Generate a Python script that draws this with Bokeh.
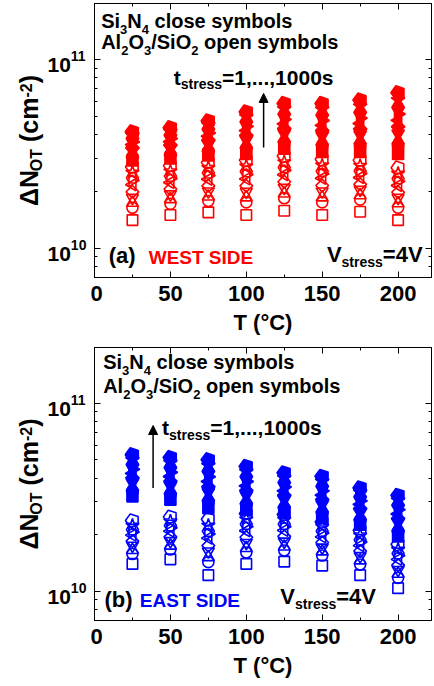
import math
from bokeh.plotting import figure
from bokeh.models import (Label, Arrow, NormalHead, FixedTicker, SingleIntervalTicker,
                          LinearAxis, LogAxis, Range1d, ColumnDataSource)
from bokeh.layouts import column, row
from bokeh.embed import file_html
from bokeh.resources import INLINE

# ---------------- data (values in units of 1e10 cm^-2) ----------------
temperatures = [25, 50, 75, 100, 125, 150, 175, 200]
stress_steps = ["1s", "2s", "5s", "10s", "20s", "50s", "100s", "200s", "500s", "1000s"]

# rows: stress step (ascending), columns: temperature
west_si3n4 = [
    [2.92, 2.99, 3.10, 3.16, 3.37, 3.24, 3.24, 3.16],
    [3.05, 3.13, 3.27, 3.37, 3.61, 3.48, 3.49, 3.46],
    [3.16, 3.24, 3.40, 3.54, 3.81, 3.69, 3.72, 3.72],
    [3.28, 3.38, 3.56, 3.75, 4.05, 3.94, 3.99, 4.05],
    [3.40, 3.52, 3.74, 3.96, 4.30, 4.20, 4.28, 4.40],
    [3.54, 3.67, 3.92, 4.20, 4.56, 4.48, 4.58, 4.76],
    [3.66, 3.81, 4.08, 4.42, 4.82, 4.75, 4.89, 5.14],
    [3.81, 3.97, 4.28, 4.67, 5.13, 5.07, 5.24, 5.57],
    [3.97, 4.15, 4.50, 4.97, 5.47, 5.44, 5.65, 6.10],
    [4.14, 4.35, 4.73, 5.28, 5.85, 5.85, 6.10, 6.67],
]
west_al2o3 = [
    [1.41, 1.50, 1.55, 1.50, 1.58, 1.50, 1.56, 1.41],
    [1.64, 1.72, 1.78, 1.75, 1.84, 1.75, 1.81, 1.64],
    [1.74, 1.82, 1.88, 1.86, 1.95, 1.86, 1.91, 1.73],
    [1.85, 1.93, 2.00, 1.99, 2.09, 2.00, 2.04, 1.85],
    [1.99, 2.06, 2.14, 2.14, 2.25, 2.15, 2.18, 1.98],
    [2.17, 2.23, 2.32, 2.33, 2.45, 2.35, 2.37, 2.15],
    [2.29, 2.34, 2.43, 2.46, 2.59, 2.48, 2.49, 2.26],
    [2.36, 2.41, 2.51, 2.55, 2.68, 2.56, 2.57, 2.34],
    [2.52, 2.56, 2.67, 2.72, 2.86, 2.75, 2.74, 2.49],
    [2.70, 2.74, 2.85, 2.93, 3.08, 2.96, 2.93, 2.67],
]
east_si3n4 = [
    [3.20, 3.07, 2.77, 2.72, 2.61, 2.45, 2.26, 1.96],
    [3.40, 3.27, 2.98, 2.90, 2.77, 2.61, 2.39, 2.08],
    [3.58, 3.44, 3.16, 3.05, 2.91, 2.75, 2.50, 2.19],
    [3.78, 3.64, 3.37, 3.24, 3.07, 2.90, 2.62, 2.32],
    [4.01, 3.85, 3.60, 3.44, 3.24, 3.08, 2.76, 2.44],
    [4.24, 4.08, 3.84, 3.64, 3.42, 3.25, 2.90, 2.58],
    [4.46, 4.30, 4.07, 3.84, 3.59, 3.42, 3.03, 2.72],
    [4.72, 4.55, 4.35, 4.07, 3.79, 3.62, 3.18, 2.87],
    [5.01, 4.84, 4.67, 4.34, 4.02, 3.85, 3.37, 3.05],
    [5.33, 5.15, 5.01, 4.62, 4.27, 4.09, 3.55, 3.24],
]
east_al2o3 = [
    [1.40, 1.48, 1.22, 1.40, 1.44, 1.37, 1.22, 1.04],
    [1.58, 1.67, 1.43, 1.61, 1.65, 1.55, 1.39, 1.18],
    [1.66, 1.75, 1.52, 1.70, 1.73, 1.63, 1.46, 1.24],
    [1.75, 1.85, 1.63, 1.81, 1.84, 1.71, 1.54, 1.30],
    [1.85, 1.95, 1.75, 1.94, 1.96, 1.82, 1.64, 1.38],
    [1.99, 2.09, 1.92, 2.10, 2.11, 1.95, 1.75, 1.48],
    [2.07, 2.18, 2.02, 2.21, 2.21, 2.04, 1.83, 1.55],
    [2.13, 2.24, 2.09, 2.28, 2.28, 2.09, 1.88, 1.59],
    [2.24, 2.36, 2.24, 2.42, 2.41, 2.21, 1.99, 1.67],
    [2.38, 2.49, 2.42, 2.59, 2.56, 2.34, 2.11, 1.78],
]

x_ticks_major = 50
y_major_ticks = [1e10, 1e11]
y_major_labels = [("10", "10"), ("10", "11")]
y_minor_ticks = [8e9, 9e9, 2e10, 3e10, 4e10, 5e10, 6e10, 7e10, 8e10, 9e10]

FONT = "Liberation Sans"
RED = "#FF0000"
BLUE = "#0000FF"
DESC = 0.21  # font descent (em) used to turn "bottom" anchors into baselines

# marker style per stress step: (marker, size, angle)
MARKERS = [
    ("square", 10.5, 0.0),
    ("circle", 11, 0.0),
    ("triangle", 12, 0.0),
    ("inverted_triangle", 12, 0.0),
    ("square", 9, math.pi / 4),
    ("triangle", 12, math.pi / 2),
    ("triangle", 12, -math.pi / 2),
    ("hex", 12, 0.0),
    ("star", 14, 0.0),
    ("pentagon", 7, 0.0),
]

# Arial/Liberation Sans Bold advance widths (per 1000 em)
W = {' ': 278, '(': 333, ')': 333, ',': 278, '-': 333, '.': 278, '/': 278, '=': 584,
     'A': 722, 'C': 722, 'D': 722, 'E': 667, 'I': 278, 'N': 722, 'O': 778, 'S': 667,
     'T': 611, 'V': 667, 'W': 944, 'a': 556, 'b': 611, 'c': 556, 'e': 556, 'i': 278,
     'l': 278, 'm': 889, 'n': 611, 'o': 611, 'p': 611, 'r': 389, 's': 556, 't': 333,
     'y': 556, 'Δ': 668, '°': 400}


def tw(s, size):
    return sum(W.get(ch, 556) for ch in s) * size / 1000.0


def rich(p, x, y, parts, color="black", x0=0.0, y0=0.0, vertical=False):
    off = 0.0
    for text, size, dy in parts:
        stripped = text.lstrip(" ")
        off += tw(text[:len(text) - len(stripped)], size)
        kw = dict(x=x, y=y, text=stripped, text_font=FONT, text_font_style="bold",
                  text_font_size=f"{size}px", text_color=color,
                  text_align="left", text_baseline="bottom")
        if vertical:
            lab = Label(x_offset=x0 - dy + DESC * size, y_offset=y0 + off,
                        angle=90, angle_units="deg", **kw)
        else:
            lab = Label(x_offset=x0 + off, y_offset=y0 + dy - DESC * size, **kw)
        p.add_layout(lab)
        off += tw(stripped, size)
    return off


def style_axis(ax):
    ax.major_tick_in = 6
    ax.major_tick_out = 0
    ax.minor_tick_in = 3
    ax.minor_tick_out = 0
    ax.major_tick_line_color = "black"
    ax.minor_tick_line_color = "black"
    ax.axis_line_color = "black"


def hide_labels(ax):
    ax.major_label_text_color = None
    ax.major_label_text_font_size = "0px"
    ax.major_label_standoff = 0


LEFT_W = 90


def make_panel(height, b_top, b_bottom, si3n4, al2o3, color, texts):
    yr = Range1d(7e9, 1.98e11)
    # main plotting figure
    p = figure(width=432 - LEFT_W, height=height, x_range=Range1d(0, 222),
               y_range=yr, y_axis_type="log",
               output_backend="svg", toolbar_location=None,
               min_border_left=94 - LEFT_W, min_border_right=1, min_border_top=b_top,
               min_border_bottom=b_bottom)
    p.grid.visible = False
    p.outline_line_color = "black"
    p.outline_line_alpha = 1.0
    p.background_fill_color = "white"

    xa = p.below[0]
    xa.ticker = SingleIntervalTicker(interval=x_ticks_major, num_minor_ticks=2)
    style_axis(xa)
    xa.major_label_text_font = FONT
    xa.major_label_text_font_style = "bold"
    xa.major_label_text_font_size = "22px"
    xa.major_label_text_color = "black"
    xa.major_label_standoff = 8
    xa.axis_label = "T (°C)"
    xa.axis_label_text_font = FONT
    xa.axis_label_text_font_style = "bold"
    xa.axis_label_text_font_size = "22px"
    xa.axis_label_text_color = "black"
    xa.axis_label_standoff = 6

    ya = p.left[0]
    ya.ticker = FixedTicker(ticks=y_major_ticks, minor_ticks=y_minor_ticks)
    style_axis(ya)
    hide_labels(ya)

    top = LinearAxis(ticker=SingleIntervalTicker(interval=x_ticks_major, num_minor_ticks=2))
    style_axis(top)
    hide_labels(top)
    p.add_layout(top, "above")
    right = LogAxis(ticker=FixedTicker(ticks=y_major_ticks, minor_ticks=y_minor_ticks))
    style_axis(right)
    hide_labels(right)
    p.add_layout(right, "right")

    # data: open (Al2O3/SiO2) then closed (Si3N4)
    for rows, filled in ((al2o3, False), (si3n4, True)):
        for (marker, size, angle), vals in zip(MARKERS, rows):
            src = ColumnDataSource(dict(x=temperatures, y=[v * 1e10 for v in vals]))
            fill = color if filled else None
            grow = 0.5 if filled else 0.0
            if marker == "pentagon":
                p.ngon(x="x", y="y", radius=size + grow / 2, radius_units="screen", n=5,
                       angle=math.pi / 2, source=src, fill_color=fill,
                       line_color=color, line_width=1.6)
            else:
                p.scatter(x="x", y="y", marker=marker, size=size + grow, angle=angle,
                          source=src, fill_color=fill, line_color=color, line_width=1.6)

    t = texts
    rich(p, t["l1"][0], t["l1"][1],
         [("Si", 20, 0), ("3", 13, -4), ("N", 20, 0), ("4", 13, -4), (" close symbols", 20, 0)])
    rich(p, t["l2"][0], t["l2"][1],
         [("Al", 20, 0), ("2", 13, -4), ("O", 20, 0), ("3", 13, -4), ("/SiO", 20, 0),
          ("2", 13, -4), (" open symbols", 20, 0)])
    rich(p, t["ts"][0], t["ts"][1],
         [("t", 21, 0), ("stress", 14, -5), ("=1,...,1000s", 21, 0)])
    rich(p, t["vs"][0], t["vs"][1],
         [("V", 22, 0), ("stress", 14, -5), ("=4V", 22, 0)])
    rich(p, t["tag"][0], t["tag"][1], [(t["tag"][2], 22, 0)])
    rich(p, t["side"][0], t["side"][1], [(t["side"][2], 19, 0)], color=color)
    ax_, y0_, y1_ = t["arrow"]
    p.add_layout(Arrow(end=NormalHead(size=9, fill_color="black", line_color="black",
                                      line_width=1),
                       x_start=ax_, y_start=y0_, x_end=ax_, y_end=y1_,
                       line_color="black", line_width=1.5))

    # left strip sharing the y range: tick labels 10^n and the y-axis title
    q = figure(width=LEFT_W, height=height, x_range=Range1d(0, LEFT_W), y_range=yr,
               y_axis_type="log", x_axis_location=None, y_axis_location=None,
               output_backend="svg", toolbar_location=None,
               min_border_left=0, min_border_right=0, min_border_top=b_top,
               min_border_bottom=b_bottom)
    q.grid.visible = False
    q.outline_line_color = None
    for tv, (base, expo) in zip(y_major_ticks, y_major_labels):
        rich(q, 47, tv, [(base, 21, -8), (expo, 14, 1)])
    yparts = [("ΔN", 25, 0), ("OT", 16, -4), (" (cm", 25, 0), ("-2", 16, 9), (")", 25, 0)]
    L = sum(tw(s_, z_) for s_, z_, _ in yparts)
    rich(q, 37, math.sqrt(7e9 * 1.98e11), yparts, y0=-L / 2, vertical=True)
    return row(q, p, spacing=0)


west_texts = dict(l1=(4.4, 1.48e11), l2=(4.4, 1.14e11), ts=(52.2, 7.38e10),
                  vs=(153.1, 8.46e9), tag=(9.4, 8.30e9, "(a)"),
                  side=(35.7, 8.30e9, "WEST SIDE"), arrow=(111.4, 3.42e10, 6.61e10))
east_texts = dict(l1=(5.7, 1.53e11), l2=(5.7, 1.14e11), ts=(44.5, 6.79e10),
                  vs=(122.4, 8.57e9), tag=(6.6, 8.23e9, "(b)"),
                  side=(29.8, 8.23e9, "EAST SIDE"), arrow=(38.6, 3.55e10, 7.62e10))

panel_a = make_panel(344, 3, 67, west_si3n4, west_al2o3, RED, west_texts)
panel_b = make_panel(341, 3, 65, east_si3n4, east_al2o3, BLUE, east_texts)

layout = column(panel_a, panel_b, spacing=0)
open("out.html", "w").write(file_html(layout, INLINE))
